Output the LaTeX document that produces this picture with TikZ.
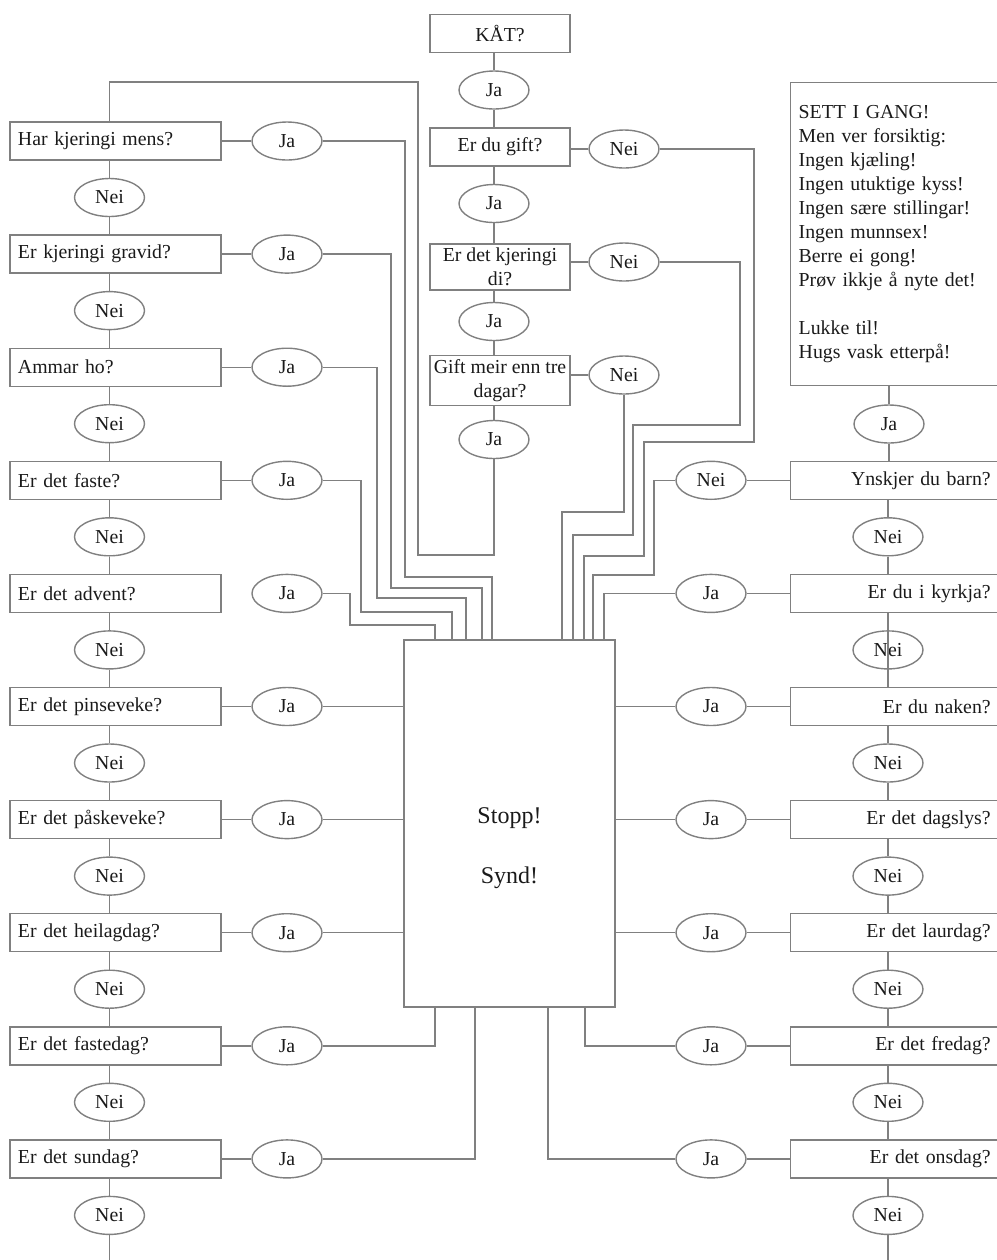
\documentclass[tikz,border=0pt]{standalone}
\usepackage{fontspec}
\setmainfont{Liberation Serif}
\usetikzlibrary{shapes.geometric}
\definecolor{fcline}{HTML}{808080}
\definecolor{fcink}{HTML}{1A1A1A}
\tikzset{
  fcbox/.style={
    draw=fcline, line width=0.7pt, text=fcink,
    font=\fontsize{9.9}{12}\selectfont, minimum height=19pt, inner ysep=2pt},
  fcoval/.style={
    ellipse, draw=fcline, line width=0.7pt, text=fcink,
    font=\fontsize{9.9}{12}\selectfont, minimum width=35pt,
    minimum height=19pt, inner sep=0pt},
  wire/.style={draw=fcline, line width=0.7pt},
}
\begin{document}
\begin{tikzpicture}[x=0.5pt, y=-0.5pt,
  lbox/.style={fcbox, text width=97.5pt, inner xsep=4pt, align=left},
  cbox/.style={fcbox, minimum width=70pt, inner xsep=0.5pt, align=center},
  rbox/.style={fcbox, anchor=west, text width=94pt, inner xsep=6pt,
    align=right}]
\useasboundingbox (0,0) rectangle (997,1260);
\clip (0,0) rectangle (997,1260);

% ------------------------------------------------------------ left column
\foreach \i/\txt in {1/Har kjeringi mens?, 2/Er kjeringi gravid?,
    3/Ammar ho?, 4/Er det faste?, 5/Er det advent?, 6/Er det pinseveke?,
    7/Er det påskeveke?, 8/Er det heilagdag?, 9/Er det fastedag?,
    10/Er det sundag?} {
  \node[lbox] (l\i) at (115.5, {141 + (\i-1) * 113.1}) {\txt};
  \node[fcoval] (lnei\i) at (109.5, {197.5 + (\i-1) * 113.1}) {Nei};
  \node[fcoval] (lja\i) at (287, {141 + (\i-1) * 113.1}) {Ja};
}
\coordinate (lend) at (109.5, 1260);
\foreach \i in {1,...,10}
  \draw[wire] (lnei\i.north |- l\i.south) -- (lnei\i.north);
\foreach \i [evaluate=\i as \j using int(\i+1)] in {1,...,9}
  \draw[wire] (lnei\i.south) -- (lnei\i.south |- l\j.north);
\draw[wire] (lnei10.south) -- (lend);
\foreach \i in {1,2,3,4,6,7,8,9,10}
  \draw[wire] (l\i.east) -- (lja\i.west);

% ---------------------------------------------------------- centre column
\node[cbox] (kat) at (500, 33.5) {KÅT?};
\node[fcoval] (cja1) at (494, 90) {Ja};
\node[cbox] (gift) at (500, 147) {Er du gift?};
\node[fcoval] (cja2) at (494, 203.5) {Ja};
\node[cbox] (kjer) at (500, 267) {Er det kjeringi\\ di?};
\node[fcoval] (cja3) at (494, 321.5) {Ja};
\node[cbox] (meir) at (500, 380.5) {Gift meir enn tre\\ dagar?};
\node[fcoval] (cja4) at (494, 439.5) {Ja};
\node[fcoval] (cnei1) at (624, 149) {Nei};
\node[fcoval] (cnei2) at (624, 262) {Nei};
\node[fcoval] (cnei3) at (624, 375) {Nei};
\draw[wire] (cja1.north |- kat.south) -- (cja1.north);
\draw[wire] (cja1.south) -- (cja1.south |- gift.north);
\draw[wire] (cja2.north |- gift.south) -- (cja2.north);
\draw[wire] (cja2.south) -- (cja2.south |- kjer.north);
\draw[wire] (cja3.north |- kjer.south) -- (cja3.north);
\draw[wire] (cja3.south) -- (cja3.south |- meir.north);
\draw[wire] (cja4.north |- meir.south) -- (cja4.north);
\draw[wire] (gift.east |- cnei1.west) -- (cnei1.west);
\draw[wire] (kjer.east |- cnei2.west) -- (cnei2.west);
\draw[wire] (meir.east |- cnei3.west) -- (cnei3.west);
% back round to the first question
\draw[wire] (cja4.south) |- (418, 555) -- (418, 82)
  -| (lnei1.north |- l1.north);

% ------------------------------------------------------------ right column
\node[fcbox, anchor=north west, text width=110pt, inner xsep=4pt,
  minimum height=151.5pt, align=left] (tbox) at (790, 82)
  {SETT I GANG!\\ Men ver forsiktig:\\ Ingen kjæling!\\
   Ingen utuktige kyss!\\ Ingen sære stillingar!\\ Ingen munnsex!\\
   Berre ei gong!\\ Prøv ikkje å nyte det!\\[12pt] Lukke til!\\
   Hugs vask etterpå!};
\node[fcoval] (rjat) at (889, 424) {Ja};
\foreach \i/\txt in {4/Ynskjer du barn?, 5/Er du i kyrkja?,
    6/Er du naken?, 7/Er det dagslys?, 8/Er det laurdag?,
    9/Er det fredag?, 10/Er det onsdag?} {
  \node[rbox] (r\i) at (790, {141 + (\i-1) * 113.1}) {\txt};
  \node[fcoval] (rnei\i) at (888, {197.5 + (\i-1) * 113.1}) {Nei};
}
\node[fcoval] (rside4) at (711, 480.3) {Nei};
\foreach \i in {5,...,10}
  \node[fcoval] (rside\i) at (711, {141 + (\i-1) * 113.1}) {Ja};
\coordinate (rend) at (888, 1260);
\draw[wire] (tbox.south -| rjat.north) -- (rjat.north);
\draw[wire] (rjat.south) -- (rjat.south |- r4.north);
\foreach \i in {4,...,10} {
  \draw[wire] (rnei\i.north |- r\i.south) -- (rnei\i.north);
  \draw[wire] (rside\i.east) -- (rside\i.east -| r\i.west);
}
\foreach \i [evaluate=\i as \j using int(\i+1)] in {4,...,9}
  \draw[wire] (rnei\i.south) -- (rnei\i.south |- r\j.north);
\draw[wire] (rnei10.south) -- (rend);
\draw[wire] (rnei5.north) -- (rnei5.south);

% ------------------------------------------------------------ stop box
\node[fcbox, minimum width=105.5pt, minimum height=183.5pt] (stopp)
  at (509.5, 823.5) {};
\node[font=\fontsize{12}{30}\selectfont, align=center, text=fcink]
  (synd) at (509.5, 848) {Stopp!\\Synd!};

% left answers into the box
\draw[wire] (lja1.east) -| (405, 577) -| (stopp.north -| 492, 0);
\draw[wire] (lja2.east) -| (391, 588) -| (stopp.north -| 482, 0);
\draw[wire] (lja3.east) -| (377, 598) -| (stopp.north -| 466, 0);
\draw[wire] (lja4.east) -| (361, 612) -| (stopp.north -| 452, 0);
\draw[wire] (lja5.east) -| (350, 625) -| (stopp.north -| 435, 0);
\foreach \i in {6,7,8}
  \draw[wire] (lja\i.east) -- (lja\i.east -| stopp.west);
\draw[wire] (lja9.east) -| (stopp.south -| 435, 0);
\draw[wire] (lja10.east) -| (stopp.south -| 475, 0);

% centre and right answers into the box
\draw[wire] (cnei1.east) -| (754, 442) -| (644, 556)
  -| (stopp.north -| 584, 0);
\draw[wire] (cnei2.east) -| (740, 425) -| (633, 535)
  -| (stopp.north -| 573, 0);
\draw[wire] (cnei3.south) |- (562, 512) -- (stopp.north -| 562, 0);
\draw[wire] (rside4.west) -| (654, 575) -| (stopp.north -| 593, 0);
\draw[wire] (rside5.west) -| (stopp.north -| 604, 0);
\foreach \i in {6,7,8}
  \draw[wire] (rside\i.west) -- (rside\i.west -| stopp.east);
\draw[wire] (rside9.west) -| (stopp.south -| 585, 0);
\draw[wire] (rside10.west) -| (stopp.south -| 548, 0);

\end{tikzpicture}
\end{document}
